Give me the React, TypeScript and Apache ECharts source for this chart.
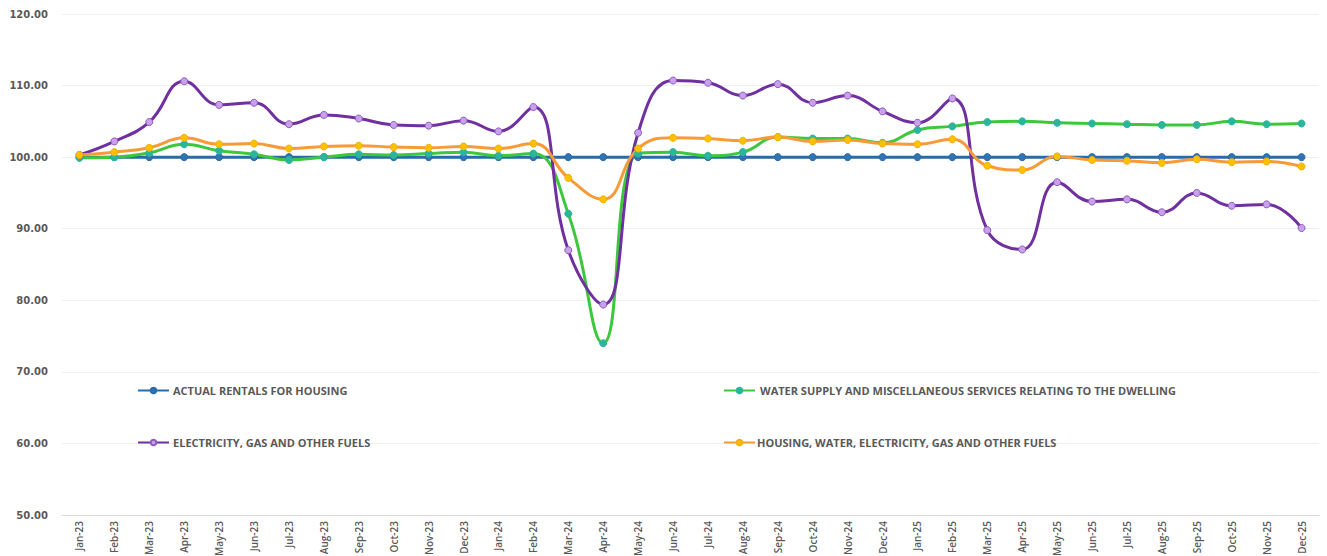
import React, { useEffect, useRef } from "react";
import * as echarts from "echarts";

const months = [
  "Jan-23","Feb-23","Mar-23","Apr-23","May-23","Jun-23","Jul-23","Aug-23","Sep-23","Oct-23","Nov-23","Dec-23",
  "Jan-24","Feb-24","Mar-24","Apr-24","May-24","Jun-24","Jul-24","Aug-24","Sep-24","Oct-24","Nov-24","Dec-24",
  "Jan-25","Feb-25","Mar-25","Apr-25","May-25","Jun-25","Jul-25","Aug-25","Sep-25","Oct-25","Nov-25","Dec-25",
];

const actualRentals = [
  100.0,100.0,100.0,100.0,100.0,100.0,100.0,100.0,100.0,100.0,100.0,100.0,
  100.0,100.0,100.0,100.0,100.0,100.0,100.0,100.0,100.0,100.0,100.0,100.0,
  100.0,100.0,100.0,100.0,100.0,100.0,100.0,100.0,100.0,100.0,100.0,100.0,
];

const waterSupply = [
  99.9,100.0,100.6,101.8,100.9,100.4,99.6,100.0,100.4,100.3,100.5,100.7,
  100.2,100.5,92.1,74.0,100.5,100.7,100.2,100.7,102.8,102.6,102.6,102.0,
  103.8,104.3,104.9,105.0,104.8,104.7,104.6,104.5,104.5,105.0,104.6,104.7,
];

const electricity = [
  100.3,102.2,104.9,110.6,107.3,107.6,104.6,105.9,105.4,104.5,104.4,105.1,
  103.6,107.0,87.0,79.4,103.4,110.7,110.4,108.6,110.2,107.6,108.6,106.4,
  104.8,108.2,89.8,87.1,96.5,93.8,94.1,92.3,95.0,93.2,93.4,90.1,
];

const housingTotal = [
  100.3,100.7,101.3,102.7,101.8,101.9,101.2,101.5,101.6,101.4,101.3,101.5,
  101.2,101.9,97.1,94.1,101.2,102.7,102.6,102.3,102.8,102.2,102.4,101.9,
  101.8,102.5,98.8,98.2,100.1,99.6,99.5,99.2,99.7,99.3,99.4,98.7,
];

const yTicks = { min: 50, max: 120, interval: 10 };

const names = [
  "ACTUAL RENTALS FOR HOUSING",
  "WATER SUPPLY AND MISCELLANEOUS SERVICES RELATING TO THE DWELLING",
  "ELECTRICITY, GAS AND OTHER FUELS",
  "HOUSING, WATER, ELECTRICITY, GAS AND OTHER FUELS",
];

export default function App() {
  const ref = useRef<HTMLDivElement>(null);
  useEffect(() => {
    if (!ref.current) return;
    const chart = echarts.init(ref.current, null, { renderer: "svg" });
    const mkSeries = (name: string, data: number[], line: string, marker: string, border: string) => ({
      name,
      type: "line",
      data,
      smooth: 0.45,
      symbol: "circle",
      symbolSize: 7,
      lineStyle: { color: line, width: 3 },
      itemStyle: { color: marker, borderColor: border, borderWidth: 1 },
      emphasis: { disabled: true },
    });
    const legendText = {
      color: "#595959",
      fontFamily: "Open Sans",
      fontWeight: "bold" as const,
      fontSize: 11,
    };
    const mkLegend = (name: string, left: number, top: number, gap: number) => ({
      data: [name],
      left,
      top,
      itemWidth: 31,
      itemHeight: 7,
      itemGap: 4,
      textStyle: { ...legendText, padding: [0, 0, 0, gap - 5] },
      selectedMode: false,
      padding: 0,
    });
    chart.setOption({
      animation: false,
      backgroundColor: "#ffffff",
      grid: { left: 62, right: 8, top: 14, bottom: 41, containLabel: false, outerBoundsMode: "none" },
      legend: [
        mkLegend(names[0], 137, 385, 4),
        mkLegend(names[1], 723, 385, 5),
        mkLegend(names[2], 137, 437, 4),
        mkLegend(names[3], 723, 437, 2),
      ],
      xAxis: {
        type: "category",
        data: months,
        boundaryGap: true,
        axisLine: { lineStyle: { color: "#d9d9d9" } },
        axisTick: { show: false },
        axisLabel: {
          rotate: 90,
          interval: 0,
          color: "#595959",
          fontFamily: "Open Sans",
          fontWeight: 600,
          fontSize: 10,
          margin: 6,
        },
      },
      yAxis: {
        type: "value",
        min: yTicks.min,
        max: yTicks.max,
        interval: yTicks.interval,
        axisLine: { show: false },
        axisTick: { show: false },
        splitLine: { lineStyle: { color: "#efefef" } },
        axisLabel: {
          formatter: (v: number) => v.toFixed(2),
          color: "#595959",
          fontFamily: "DejaVu Sans",
          fontWeight: "bold",
          fontSize: 10,
          margin: 14,
        },
      },
      series: [
        mkSeries(names[0], actualRentals, "#2A6AA6", "#2E75B6", "#2A6AA6"),
        mkSeries(names[1], waterSupply, "#3DC73D", "#2BB59A", "#2BB59A"),
        mkSeries(names[2], electricity, "#7030A0", "#C9A0EC", "#8E5BC0"),
        mkSeries(names[3], housingTotal, "#F79A3A", "#FFC000", "#F5B000"),
      ],
    });
    return () => chart.dispose();
  }, []);
  return (
    <div
      ref={ref}
      style={{ position: "absolute", left: 0, top: 0, width: 1327, height: 556 }}
    />
  );
}
